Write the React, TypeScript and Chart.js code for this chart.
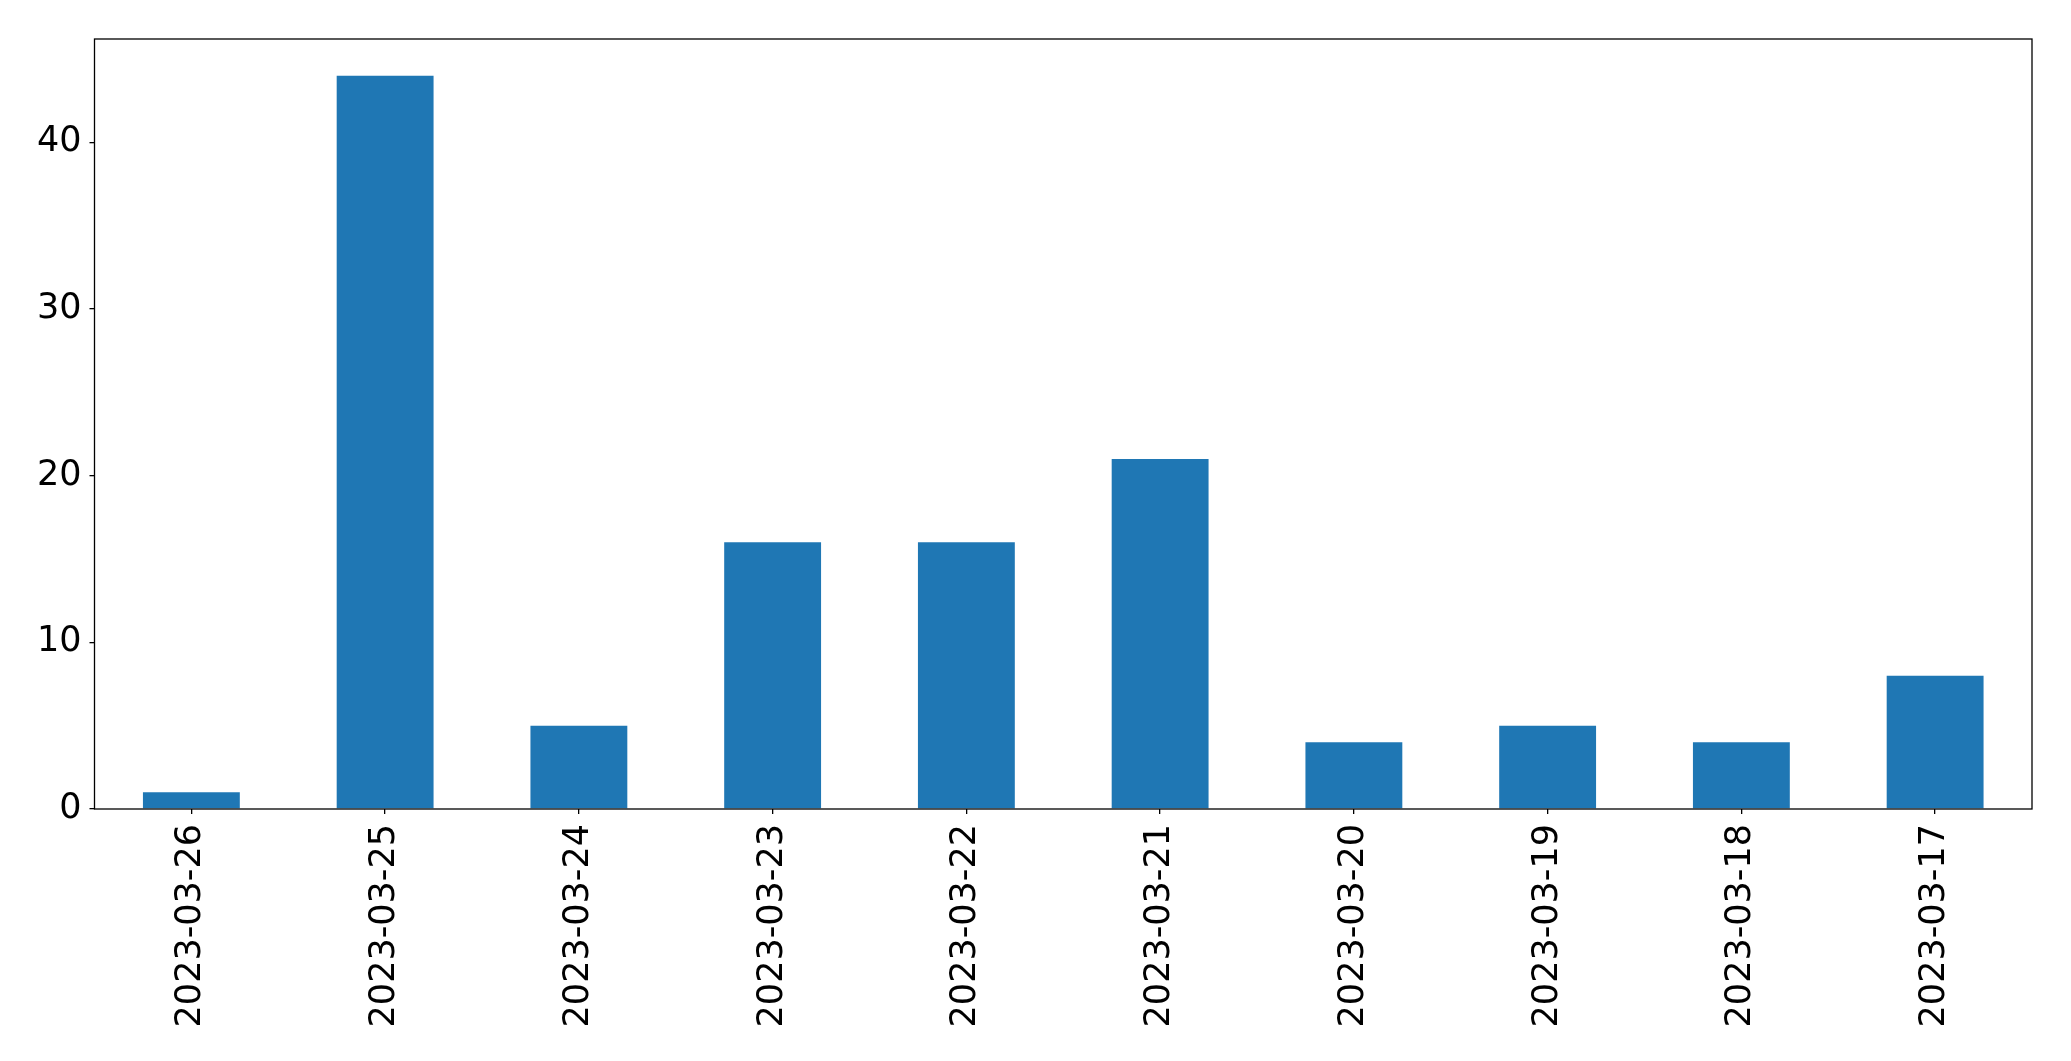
import React, { useEffect, useRef } from "react";
import { Chart, registerables } from "chart.js";

Chart.register(...registerables);

const categories = [
  "2023-03-26",
  "2023-03-25",
  "2023-03-24",
  "2023-03-23",
  "2023-03-22",
  "2023-03-21",
  "2023-03-20",
  "2023-03-19",
  "2023-03-18",
  "2023-03-17",
];
const counts = [1, 44, 5, 16, 16, 21, 4, 5, 4, 8];
const yTicks = [0, 10, 20, 30, 40];
const yMax = 46.2;

const frame = {
  id: "frame",
  afterDraw(chart: any) {
    const { ctx, chartArea } = chart;
    ctx.save();
    ctx.strokeStyle = "#000";
    ctx.lineWidth = 1.3;
    ctx.strokeRect(chartArea.left, chartArea.top, chartArea.right - chartArea.left, chartArea.bottom - chartArea.top);
    ctx.restore();
  },
};

export default function App() {
  const ref = useRef<HTMLCanvasElement | null>(null);
  useEffect(() => {
    if (!ref.current) return;
    const font = { family: "'DejaVu Sans', sans-serif", size: 35 };
    const chart = new Chart(ref.current, {
      type: "bar",
      data: {
        labels: categories,
        datasets: [
          {
            data: counts,
            backgroundColor: "#1f77b4",
            borderWidth: 0,
            categoryPercentage: 1,
            barPercentage: 0.5,
          },
        ],
      },
      plugins: [frame],
      options: {
        animation: false,
        responsive: false,
        maintainAspectRatio: false,
        layout: { padding: { top: 39, right: 39, left: 0, bottom: 0 } },
        plugins: { legend: { display: false }, tooltip: { enabled: false } },
        scales: {
          x: {
            grid: { offset: false, drawOnChartArea: false, drawTicks: true, tickLength: 5, color: "#000", lineWidth: 1.3 },
            border: { display: false },
            ticks: { color: "#000", font, maxRotation: 90, minRotation: 90, padding: 10, autoSkip: false },
            afterFit(scale: any) {
              scale.height = 252;
            },
          },
          y: {
            min: 0,
            max: yMax,
            grid: { drawOnChartArea: false, drawTicks: true, tickLength: 5, color: "#000", lineWidth: 1.3 },
            border: { display: false },
            ticks: { color: "#000", font, padding: 8 },
            afterBuildTicks(scale: any) {
              scale.ticks = yTicks.map((v) => ({ value: v }));
            },
            afterFit(scale: any) {
              scale.width = 94.5;
            },
          },
        },
      },
    });
    return () => chart.destroy();
  }, []);
  return (
    <div style={{ position: "absolute", left: 0, top: 0, width: 2071, height: 1061, background: "#fff" }}>
      <canvas ref={ref} width={2071} height={1061} style={{ width: 2071, height: 1061 }} />
    </div>
  );
}
